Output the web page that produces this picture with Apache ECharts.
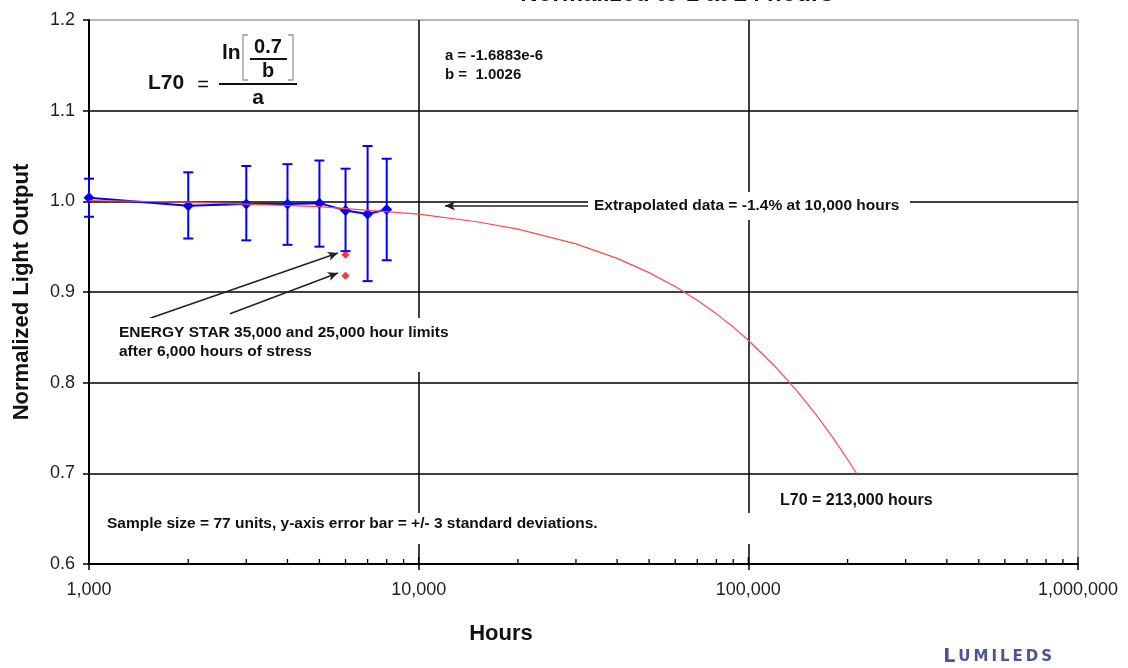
<!DOCTYPE html>
<html>
<head>
<meta charset="utf-8">
<script src="https://cdn.jsdelivr.net/npm/echarts@6/dist/echarts.min.js"></script>
<style>html,body{margin:0;padding:0;background:#fff}#c{width:1128px;height:668px}</style>
</head>
<body>
<div id="c"></div>
<script>
// ---- data ----
const hours = [1000, 2000, 3000, 4000, 5000, 6000, 7000, 8000];
const meanOutput = [1.004, 0.995, 0.997, 0.997, 0.998, 0.990, 0.986, 0.991];
const errLow  = [0.983, 0.959, 0.957, 0.952, 0.950, 0.945, 0.912, 0.935];
const errHigh = [1.025, 1.032, 1.039, 1.041, 1.045, 1.036, 1.061, 1.047];
const fitHours = [1000, 2000, 5000, 10000, 15000, 20000, 30000, 40000, 50000, 60000, 70000, 80000, 90000, 100000, 120000, 140000, 160000, 180000, 200000, 213000];
const fitValues = [1.0009, 0.9992, 0.9942, 0.9858, 0.9775, 0.9693, 0.9531, 0.9371, 0.9214, 0.9060, 0.8909, 0.8759, 0.8613, 0.8468, 0.8187, 0.7916, 0.7653, 0.7399, 0.7153, 0.6998];
const limitHours = [6000, 6000];
const limitValues = [0.941, 0.918];
const xTickValues = [1000, 10000, 100000, 1000000];
const yTickLabels = ['0.6', '0.7', '0.8', '0.9', '1.0', '1.1', '1.2'];

// axis decoration: tick marks drawn inside the bottom axis
const tickMarks = [];
for (let d = 1000; d < 1000000; d *= 10) {
  for (let m = 1; m <= 9; m++) tickMarks.push([d * m, 0.6, m === 1 ? 7 : 5]);
}
tickMarks.push([1000000, 0.6, 7]);

const F = '"Liberation Sans", Arial, sans-serif';
const chart = echarts.init(document.getElementById('c'), null, {renderer: 'canvas'});

const option = {
  backgroundColor: '#fff',
  animation: false,
  grid: {left: 89, right: 50, top: 20, bottom: 104, containLabel: false,
    show: true, borderColor: '#a0a0a0', borderWidth: 1.5, backgroundColor: 'transparent'},
  xAxis: {
    type: 'log', logBase: 10, min: 1000, max: 1000000,
    axisLine: {show: true, onZero: false, lineStyle: {color: '#000', width: 2}},
    axisTick: {show: true, length: 6, lineStyle: {color: '#000', width: 1.5}},
    axisLabel: {margin: 17, fontFamily: F, fontSize: 18, color: '#222',
      formatter: v => Number(v).toLocaleString('en-US')},
    splitLine: {show: true, showMinLine: false, showMaxLine: false, lineStyle: {color: '#000', width: 1.5}},
    minorTick: {show: false}, minorSplitLine: {show: false}
  },
  yAxis: {
    type: 'value', min: 0.6, max: 1.2, interval: 0.1,
    axisLine: {show: true, onZero: false, lineStyle: {color: '#000', width: 2}},
    axisTick: {show: true, length: 6, lineStyle: {color: '#000', width: 1.5}},
    axisLabel: {margin: 14, fontFamily: F, fontSize: 18, color: '#222',
      formatter: v => yTickLabels[Math.round((v - 0.6) * 10)]},
    splitLine: {show: true, showMinLine: false, showMaxLine: false, lineStyle: {color: '#000', width: 1.5}}
  },
  series: [
    {
      type: 'custom', name: 'ticks', z: 3, silent: true,
      data: tickMarks, encode: {x: 0, y: 1},
      renderItem: (params, api) => {
        const p = api.coord([api.value(0), api.value(1)]);
        const len = api.value(2);
        return {type: 'line', shape: {x1: p[0], y1: p[1], x2: p[0], y2: p[1] - len},
          style: {stroke: '#000', lineWidth: 1.3}};
      }
    },
    {
      type: 'custom', name: 'error', z: 4,
      data: hours.map((h, i) => [h, errLow[i], errHigh[i]]),
      encode: {x: 0, y: [1, 2]},
      renderItem: (params, api) => {
        const lo = api.coord([api.value(0), api.value(1)]);
        const hi = api.coord([api.value(0), api.value(2)]);
        const w = 5;
        const st = {stroke: '#0000ff', lineWidth: 2};
        return {type: 'group', children: [
          {type: 'line', shape: {x1: lo[0], y1: lo[1], x2: hi[0], y2: hi[1]}, style: st},
          {type: 'line', shape: {x1: lo[0] - w, y1: lo[1], x2: lo[0] + w, y2: lo[1]}, style: st},
          {type: 'line', shape: {x1: hi[0] - w, y1: hi[1], x2: hi[0] + w, y2: hi[1]}, style: st}
        ]};
      }
    },
    {
      type: 'line', name: 'mean', z: 5,
      data: hours.map((h, i) => [h, meanOutput[i]]),
      symbol: 'diamond', symbolSize: 11,
      itemStyle: {color: '#0000ff'},
      lineStyle: {color: '#0000ff', width: 2}
    },
    {
      type: 'line', name: 'fit', z: 6,
      data: fitHours.map((h, i) => [h, fitValues[i]]),
      showSymbol: false, symbol: 'none',
      lineStyle: {color: '#ff4a4a', width: 1.2}
    },
    {
      type: 'scatter', name: 'limits', z: 6,
      data: limitHours.map((h, i) => [h, limitValues[i]]),
      symbol: 'diamond', symbolSize: 8,
      itemStyle: {color: '#ff0000'},
      markLine: {
        silent: true, symbol: ['none', 'arrow'], symbolSize: [7, 10],
        label: {show: false},
        lineStyle: {color: '#222', width: 1.5, type: 'solid'},
        data: [
          [{coord: [1531, 0.871]}, {coord: [5690, 0.943]}],
          [{coord: [2677, 0.876]}, {coord: [5690, 0.921]}],
          [{coord: [33077, 0.995]}, {coord: [12018, 0.995]}]
        ]
      }
    }
  ],
  graphic: [
    // title (cut off at the top edge)
    {type: 'text', z: 100, x: 677, y: 6.5, style: {text: 'Normalized to 1 at 24 hours', font: 'bold 24px ' + F, fill: '#111', align: 'center', verticalAlign: 'bottom'}},
    // axis titles
    {type: 'text', z: 100, x: 501, y: 634, style: {text: 'Hours', font: 'bold 22px ' + F, fill: '#111', align: 'center', verticalAlign: 'middle'}},
    {type: 'text', z: 100, x: 22, y: 292, rotation: Math.PI / 2, style: {text: 'Normalized Light Output', font: 'bold 22px ' + F, fill: '#111', align: 'center', verticalAlign: 'middle'}},
    // formula
    {type: 'text', z: 100, x: 148, y: 83, style: {text: 'L70', font: 'bold 21px ' + F, fill: '#111', align: 'left', verticalAlign: 'middle'}},
    {type: 'text', z: 100, x: 203, y: 85, style: {text: '=', font: '20px ' + F, fill: '#111', align: 'center', verticalAlign: 'middle'}},
    {type: 'text', z: 100, x: 222, y: 53, style: {text: 'ln', font: 'bold 21px ' + F, fill: '#111', align: 'left', verticalAlign: 'middle'}},
    {type: 'polyline', z: 100, shape: {points: [[248, 35], [243, 35], [243, 80], [248, 80]]}, style: {stroke: '#999', lineWidth: 1.3, fill: null}},
    {type: 'polyline', z: 100, shape: {points: [[288, 35], [293, 35], [293, 80], [288, 80]]}, style: {stroke: '#999', lineWidth: 1.3, fill: null}},
    {type: 'text', z: 100, x: 268, y: 47, style: {text: '0.7', font: 'bold 20px ' + F, fill: '#111', align: 'center', verticalAlign: 'middle'}},
    {type: 'line', z: 100, shape: {x1: 250, y1: 59, x2: 287, y2: 59}, style: {stroke: '#111', lineWidth: 2}},
    {type: 'text', z: 100, x: 268, y: 71, style: {text: 'b', font: 'bold 20px ' + F, fill: '#111', align: 'center', verticalAlign: 'middle'}},
    {type: 'line', z: 100, shape: {x1: 219, y1: 84, x2: 297, y2: 84}, style: {stroke: '#111', lineWidth: 2}},
    {type: 'text', z: 100, x: 258, y: 98, style: {text: 'a', font: 'bold 21px ' + F, fill: '#111', align: 'center', verticalAlign: 'middle'}},
    {type: 'text', z: 100, x: 445, y: 56, style: {text: 'a = -1.6883e-6', font: 'bold 15px ' + F, fill: '#111', align: 'left', verticalAlign: 'middle'}},
    {type: 'text', z: 100, x: 445, y: 75, style: {text: 'b =  1.0026', font: 'bold 15px ' + F, fill: '#111', align: 'left', verticalAlign: 'middle'}},
    // annotation boxes
    {type: 'rect', z: 90, shape: {x: 588, y: 192, width: 322, height: 28}, style: {fill: '#fff'}},
    {type: 'text', z: 100, x: 594, y: 206, style: {text: 'Extrapolated data = -1.4% at 10,000 hours', font: 'bold 15.5px ' + F, fill: '#111', align: 'left', verticalAlign: 'middle'}},
    {type: 'rect', z: 90, shape: {x: 110, y: 318, width: 356, height: 54}, style: {fill: '#fff'}},
    {type: 'text', z: 100, x: 119, y: 333, style: {text: 'ENERGY STAR 35,000 and 25,000 hour limits', font: 'bold 15.5px ' + F, fill: '#111', align: 'left', verticalAlign: 'middle'}},
    {type: 'text', z: 100, x: 119, y: 352, style: {text: 'after 6,000 hours of stress', font: 'bold 15.5px ' + F, fill: '#111', align: 'left', verticalAlign: 'middle'}},
    {type: 'rect', z: 90, shape: {x: 100, y: 513, width: 660, height: 31}, style: {fill: '#fff'}},
    {type: 'text', z: 100, x: 107, y: 524, style: {text: 'Sample size = 77 units, y-axis error bar = +/- 3 standard deviations.', font: 'bold 15.5px ' + F, fill: '#111', align: 'left', verticalAlign: 'middle'}},
    {type: 'text', z: 100, x: 780, y: 501, style: {text: 'L70 = 213,000 hours', font: 'bold 16px ' + F, fill: '#111', align: 'left', verticalAlign: 'middle'}},
    // logo
    {type: 'text', z: 100, x: 1052, y: 657, style: {
      text: '{a|L}{b|\u2009U\u2009M\u2009I\u2009L\u2009E\u2009D\u2009S}', align: 'right', verticalAlign: 'middle',
      rich: {a: {font: 'bold 19px "DejaVu Sans", sans-serif', fill: '#4a5694'}, b: {font: 'bold 15px "DejaVu Sans", sans-serif', fill: '#4a5694'}}}}
  ]
};
chart.setOption(option);
</script>
</body>
</html>
